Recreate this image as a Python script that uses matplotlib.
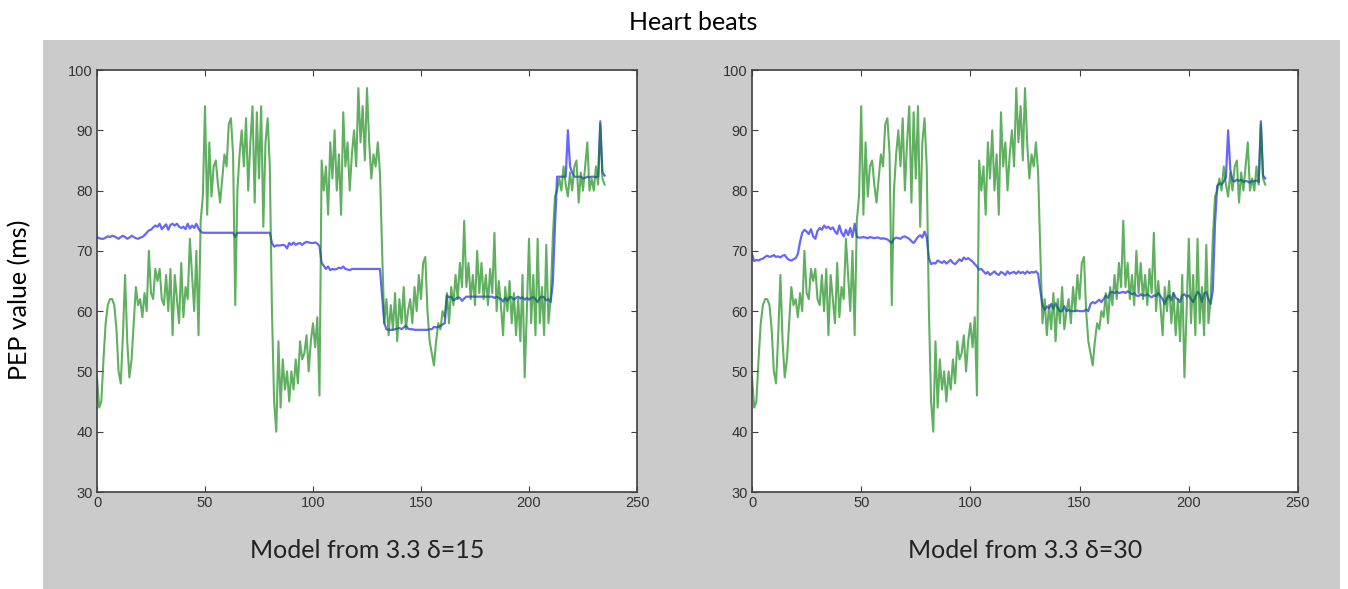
import numpy as np
import matplotlib
matplotlib.use('Agg')
import matplotlib.pyplot as plt
from matplotlib.patches import Rectangle

# measured PEP per heart beat (same in both panels)
pep_measured = [
    49, 44, 45, 52, 58, 61, 62, 62, 61, 57,
    50, 48, 56, 66, 55, 49, 52, 58, 64, 61,
    62, 59, 63, 60, 70, 63, 62, 67, 65, 67,
    62, 61, 66, 60, 67, 56, 66, 62, 58, 68,
    59, 64, 62, 72, 66, 60, 70, 56, 75, 79,
    94, 76, 88, 79, 84, 85, 81, 78, 82, 86,
    84, 91, 92, 86, 61, 80, 86, 90, 84, 92,
    80, 88, 94, 78, 93, 82, 94, 74, 88, 92,
    84, 60, 45, 40, 55, 44, 52, 47, 50, 45,
    50, 47, 52, 48, 55, 52, 53, 56, 50, 55,
    58, 54, 59, 46, 85, 80, 84, 76, 88, 82,
    90, 80, 86, 76, 93, 84, 88, 80, 86, 90,
    84, 97, 88, 94, 85, 97, 88, 82, 86, 84,
    88, 83, 70, 58, 62, 56, 61, 57, 63, 55,
    62, 58, 64, 57, 60, 62, 58, 64, 60, 66,
    62, 68, 69, 60, 55, 53, 51, 55, 58, 57,
    60, 59, 63, 58, 64, 61, 66, 62, 68, 64,
    75, 64, 68, 62, 66, 61, 70, 63, 68, 62,
    66, 61, 67, 63, 73, 60, 65, 61, 56, 64,
    60, 65, 58, 63, 56, 62, 55, 66, 49, 60,
    72, 58, 66, 56, 72, 58, 64, 56, 71, 58,
    62, 72, 79, 80, 82, 80, 84, 81, 79, 83,
    80, 84, 85, 78, 83, 80, 84, 88, 80, 82,
    80, 84, 81, 91, 82, 81,
]

# model output, delta = 15
model_d15 = [
    72.3, 72.1, 72.0, 72.0, 72.2, 72.4, 72.3, 72.5, 72.4, 72.2,
    72.0, 72.3, 72.5, 72.3, 72.0, 72.2, 72.5, 72.3, 72.1, 72.0,
    72.2, 72.3, 72.6, 73.0, 73.4, 73.5, 73.9, 74.2, 74.0, 74.5,
    73.6, 74.0, 74.4, 73.5, 74.3, 74.5, 74.2, 74.5, 74.0, 73.8,
    74.0, 73.6, 74.5, 73.7, 74.2, 73.8, 74.5, 73.7, 73.2, 73.0,
    73.0, 73.0, 73.0, 73.0, 73.0, 73.0, 73.0, 73.0, 73.0, 73.0,
    73.0, 73.0, 73.0, 73.0, 72.3, 73.0, 73.0, 73.0, 73.0, 73.0,
    73.0, 73.0, 73.0, 73.0, 73.0, 73.0, 73.0, 73.0, 73.0, 73.0,
    73.0, 71.3, 70.7, 70.9, 70.9, 70.9, 71.0, 70.9, 70.4, 71.3,
    71.0, 71.4, 71.0, 71.2, 71.3, 71.0, 71.3, 71.5, 71.4, 71.3,
    71.3, 71.4, 71.2, 70.8, 68.0, 67.5, 67.0, 67.4, 66.8, 67.0,
    66.9, 67.0, 67.2, 67.1, 67.4, 67.0, 66.9, 66.8, 67.0, 67.0,
    67.0, 67.0, 67.0, 67.0, 67.0, 67.0, 67.0, 67.0, 67.0, 67.0,
    67.0, 67.0, 62.5, 58.0, 57.0, 56.9, 56.9, 56.9, 57.0, 57.1,
    57.2, 57.0, 57.3, 57.6, 57.1, 57.0, 57.0, 56.9, 56.9, 56.9,
    56.9, 56.9, 56.9, 56.9, 57.0, 57.0, 57.4, 57.3, 57.4, 57.5,
    57.8, 58.0, 62.6, 62.3, 62.4, 61.8, 62.0, 62.3, 62.2, 61.7,
    62.1, 62.4, 62.4, 62.4, 62.4, 62.4, 62.4, 62.4, 62.4, 62.4,
    62.4, 62.4, 62.4, 62.4, 62.2, 62.4, 62.2, 62.0, 61.6, 62.2,
    61.7, 62.3, 62.3, 61.9, 62.2, 62.4, 62.1, 62.3, 61.9, 62.2,
    61.9, 62.2, 62.3, 62.0, 61.5, 62.2, 62.4, 62.3, 61.8, 62.0,
    61.5, 64.5, 74.0, 82.3, 82.3, 82.3, 82.3, 82.3, 90.0, 84.0,
    83.0, 82.3, 82.3, 82.3, 82.3, 82.0, 82.1, 82.3, 82.2, 82.3,
    82.3, 82.2, 82.3, 91.5, 83.0, 82.5,
]

# model output, delta = 30
model_d30 = [
    69.5, 68.3, 68.5, 68.4, 68.6, 68.7, 69.0, 69.2, 69.0, 69.1,
    69.3, 69.0, 69.1, 68.9, 69.2, 69.3, 68.8, 68.5, 68.4, 68.6,
    68.8, 69.5, 71.5, 73.0, 73.5, 73.2, 72.8, 73.6, 72.4, 72.0,
    73.3, 73.8, 73.5, 74.2, 73.8, 74.0, 73.6, 73.9, 73.2, 72.8,
    74.2, 73.0, 72.4, 73.5, 72.6, 73.8, 72.3, 74.5, 72.3, 72.2,
    72.2, 72.3, 72.2, 72.1, 72.3, 72.2, 72.1, 72.2, 72.2, 72.0,
    72.1, 72.0, 71.9, 71.6, 71.3, 72.0, 72.2, 72.1, 72.0, 72.3,
    72.4, 72.2, 72.0, 71.6, 71.3, 71.8, 72.3, 72.6, 72.2, 73.2,
    72.3, 68.8, 67.8, 68.0, 67.9, 68.4, 68.2, 68.0, 68.3, 67.9,
    68.2, 68.5, 68.0, 67.8, 68.2, 68.6, 68.3, 68.9, 68.6, 68.8,
    68.5, 68.2, 67.8, 67.4, 66.9, 67.0, 66.6, 66.2, 66.5, 66.0,
    66.3, 66.6, 66.2, 66.0, 66.5, 66.3, 66.0, 66.6, 66.2, 66.4,
    66.5, 66.2, 66.6, 66.3, 66.5, 66.2, 66.6, 66.3, 66.5, 66.4,
    66.6, 66.2, 63.5, 61.0, 60.2, 60.8, 60.5, 61.2, 60.4, 61.3,
    60.5, 60.0, 60.0, 60.8, 60.0, 60.2, 60.0, 60.0, 60.0, 60.1,
    60.0, 60.0, 60.0, 60.3, 60.0, 61.2, 61.5, 61.3, 61.6, 61.9,
    61.5, 62.0, 62.6, 62.2, 63.1, 63.2, 63.0, 63.2, 63.0, 63.1,
    63.2, 63.0, 63.3, 63.1, 62.8, 63.0, 62.6, 62.5, 62.8, 62.6,
    62.6, 62.8, 62.5, 62.3, 62.6, 62.5, 63.0, 62.5, 62.0, 61.2,
    62.2, 62.6, 61.8, 63.0, 62.2, 62.0, 61.5, 62.6, 62.8, 62.4,
    62.6, 62.0, 61.5, 62.3, 63.2, 62.8, 61.5, 62.9, 63.2, 62.0,
    61.2, 63.5, 74.5, 80.8, 81.2, 81.0, 81.5, 82.2, 90.0, 83.5,
    81.7, 81.5, 81.8, 81.6, 81.8, 81.4, 81.6, 81.5, 81.3, 81.6,
    81.5, 81.7, 81.4, 91.5, 82.5, 82.0,
]

panel_titles = ['Model from 3.3 δ=15', 'Model from 3.3 δ=30']
x_ticks = [0, 50, 100, 150, 200, 250]
y_ticks = [30, 40, 50, 60, 70, 80, 90, 100]

W, H = 1348, 589
fig = plt.figure(figsize=(W / 100, H / 100), dpi=100)
fig.patch.set_facecolor('white')

# gray figure-window background behind the two plots
fig.patches.append(Rectangle((43 / W, 0), (1340 - 43) / W, (H - 40) / H,
                             transform=fig.transFigure, facecolor='#cbcbcb',
                             edgecolor='none', zorder=-10))

text_font = ['Lato', 'DejaVu Sans']
fig.text(693 / W, 1 - 22 / H, 'Heart beats', ha='center', va='center',
         fontsize=18, family=text_font)
fig.text(20 / W, 1 - 300 / H, 'PEP value (ms)', ha='center', va='center',
         rotation=90, fontsize=18, family=text_font)

boxes = [(97, 637), (752, 1298)]
models = [model_d15, model_d30]
beats = np.arange(len(pep_measured))

for (x0, x1), model, title in zip(boxes, models, panel_titles):
    ax = fig.add_axes([x0 / W, (H - 492) / H, (x1 - x0) / W, (492 - 70) / H])
    ax.set_facecolor('white')
    ax.plot(beats, model, color='#0000ff', alpha=0.6, lw=1.6)
    ax.plot(beats, pep_measured, color='#008000', alpha=0.62, lw=1.5)
    ax.set_xlim(0, 250)
    ax.set_ylim(30, 100)
    ax.set_xticks(x_ticks)
    ax.set_yticks(y_ticks)
    ax.tick_params(direction='in', top=True, right=True, length=4,
                   color='#404040', labelcolor='#333333', labelsize=10.5, pad=3)
    for lab in ax.get_xticklabels() + ax.get_yticklabels():
        lab.set_family('Liberation Sans')
    for sp in ax.spines.values():
        sp.set_color('#404040')
        sp.set_linewidth(1.2)
    fig.text((x0 + x1) / 2 / W, 1 - 551 / H, title, ha='center',
             va='center', fontsize=18, family=text_font, color='#222222')

fig.savefig('out.png', dpi=100)
